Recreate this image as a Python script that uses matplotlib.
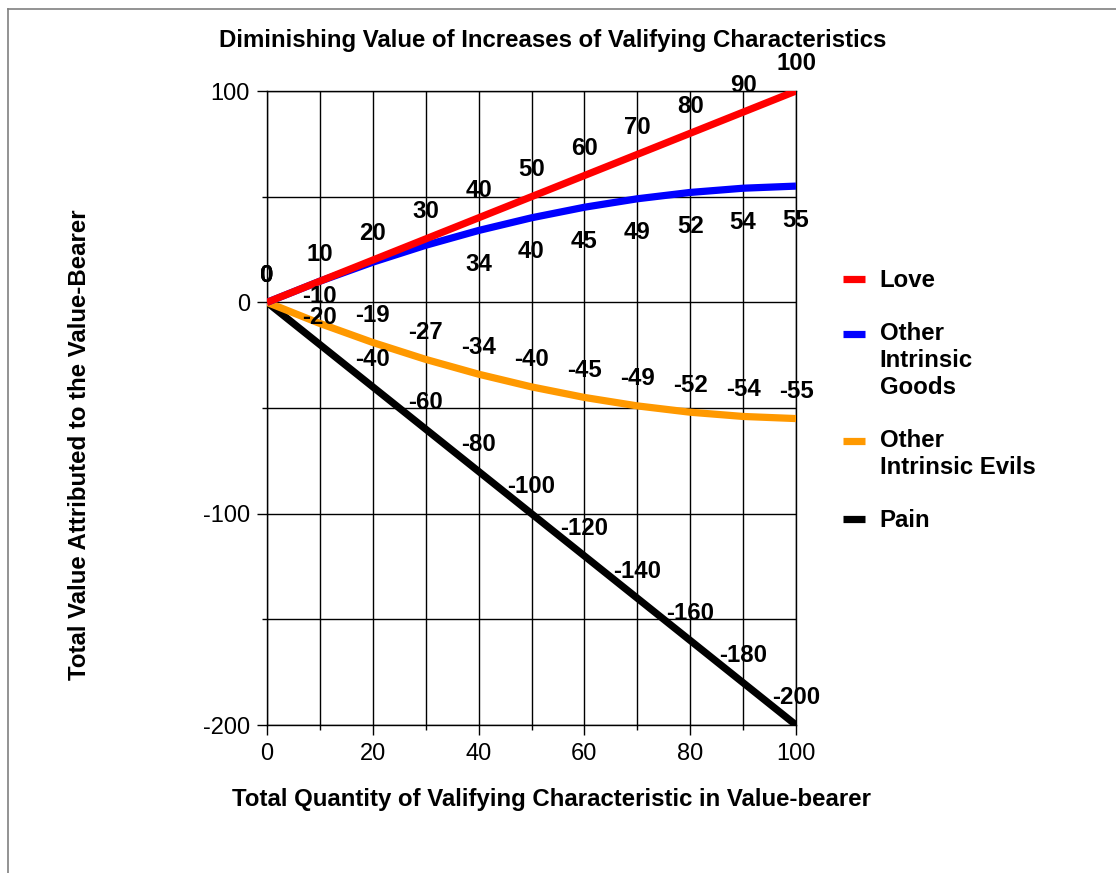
import numpy as np
import matplotlib
matplotlib.use('Agg')
from matplotlib import pyplot as plt
from matplotlib.lines import Line2D
from matplotlib.legend_handler import HandlerLine2D

# chart data
quantity = [0, 10, 20, 30, 40, 50, 60, 70, 80, 90, 100]
love = [0, 10, 20, 30, 40, 50, 60, 70, 80, 90, 100]
goods = [0, 10, 19, 27, 34, 40, 45, 49, 52, 54, 55]
evils = [0, -10, -19, -27, -34, -40, -45, -49, -52, -54, -55]
pain = [0, -20, -40, -60, -80, -100, -120, -140, -160, -180, -200]
series_names = ['Love', 'Other\nIntrinsic\nGoods', 'Other\nIntrinsic Evils', 'Pain']

plt.rcParams['font.family'] = ['Liberation Sans', 'DejaVu Sans']
plt.rcParams['axes.unicode_minus'] = False

LINE_STEP = 19.4  # points between lines of a legend label


class TopHandler(HandlerLine2D):
    # put the legend key next to the first line of a multi-line label
    def create_artists(self, legend, orig_handle, xdescent, ydescent,
                       width, height, fontsize, trans):
        arts = super().create_artists(legend, orig_handle, xdescent, ydescent,
                                      width, height, fontsize, trans)
        nlines = orig_handle.get_label().count('\n') + 1
        shift = (nlines - 1) / 2 * LINE_STEP
        for a in arts:
            a.set_ydata(np.asarray(a.get_ydata()) + shift)
        return arts


fig = plt.figure(figsize=(11.16, 8.73), dpi=100)
ax = fig.add_axes([267/1116, 1 - 725/873, 529/1116, 634/873])

lw = 5.2
l_love, = ax.plot(quantity, love, color='#FF0000', lw=lw, zorder=6,
                  label=series_names[0], solid_capstyle='butt')
l_goods, = ax.plot(quantity, goods, color='#0000FF', lw=lw, zorder=5,
                   label=series_names[1], solid_capstyle='butt')
l_evils, = ax.plot(quantity, evils, color='#FF9900', lw=lw, zorder=4,
                   label=series_names[2], solid_capstyle='butt')
l_pain, = ax.plot(quantity, pain, color='#000000', lw=lw, zorder=3,
                  label=series_names[3], solid_capstyle='butt')

fs = 17.3
def put_labels(xs, ys, dy):
    for x, y in zip(xs, ys):
        ax.annotate(str(y), (x, y), xytext=(0, dy), textcoords='offset pixels',
                    ha='center', va='center', fontsize=fs,
                    fontweight='bold', zorder=10, annotation_clip=False)

put_labels(quantity, love, 27)
put_labels(quantity[4:], goods[4:], -34)
put_labels(quantity, evils, 27)
put_labels(quantity, pain, 27)

ax.set_xlim(0, 100)
ax.set_ylim(-200, 100)
ax.set_xticks(range(0, 101, 20))
ax.set_xticks(range(10, 100, 20), minor=True)
ax.set_yticks([-200, -100, 0, 100])
ax.set_yticks([-150, -50, 50], minor=True)
ax.grid(True, which='both', color='black', lw=1.0, zorder=1)
ax.tick_params(which='major', length=7.2, width=1.0, labelsize=17, pad=5)
ax.tick_params(which='minor', length=3.6, width=1.0)
ax.tick_params(axis='x', which='major', pad=6)
for s in ax.spines.values():
    s.set_linewidth(1.0)

ax.set_xlabel('Total Quantity of Valifying Characteristic in Value-bearer',
              fontsize=fs, fontweight='bold', va='center')
ax.xaxis.set_label_coords(0.537, -0.118)
ax.set_ylabel('Total Value Attributed to the Value-Bearer',
              fontsize=fs, fontweight='bold', va='center')
ax.yaxis.set_label_coords(-0.355, 0.442)

fig.text(553/1116, 1 - 40/873,
         'Diminishing Value of Increases of Valifying Characteristics',
         ha='center', va='center', fontsize=fs, fontweight='bold')

leg = ax.legend(handles=[l_love, l_goods, l_evils, l_pain],
                loc='upper left', bbox_to_anchor=(843/1116, 1 - 269/873),
                bbox_transform=fig.transFigure, frameon=False,
                prop={'size': fs, 'weight': 'bold'},
                handlelength=0.9, handletextpad=0.62, labelspacing=1.25,
                borderpad=0, borderaxespad=0,
                handler_map={Line2D: TopHandler()})
for t in leg.get_texts():
    t.set_linespacing(1.22)

# outer frame of the chart area
fig.add_artist(Line2D([8/1116, 8/1116], [0, 1 - 9/873], transform=fig.transFigure,
                      color='#808080', lw=1.2))
fig.add_artist(Line2D([8/1116, 1], [1 - 9/873, 1 - 9/873], transform=fig.transFigure,
                      color='#808080', lw=1.2))

fig.savefig('out.png', dpi=100)
